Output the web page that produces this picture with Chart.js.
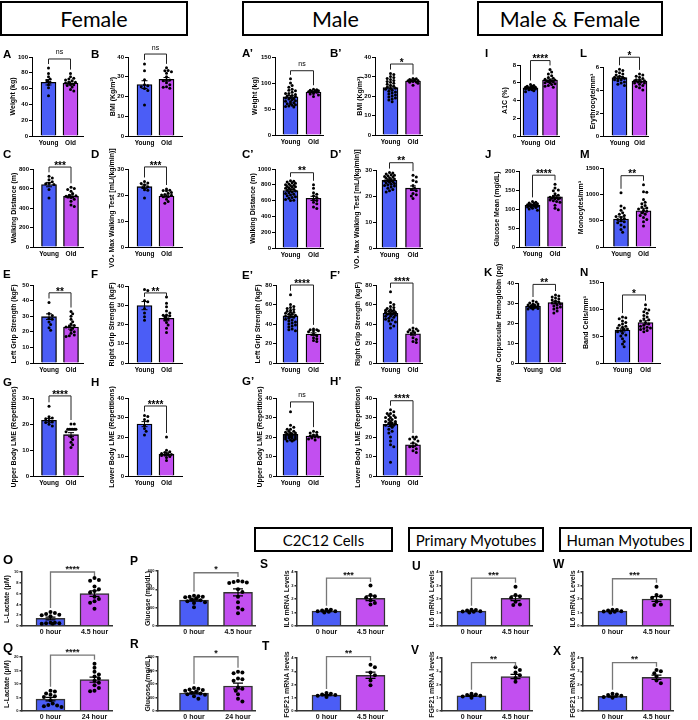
<!DOCTYPE html>
<html><head><meta charset="utf-8">
<script src="https://cdn.jsdelivr.net/npm/chart.js@4.4.1/dist/chart.umd.min.js"></script>
<style>
html,body{margin:0;padding:0;background:#fff;}
#root{position:relative;width:698px;height:720px;overflow:hidden;background:#fff;}
canvas{position:absolute;}
.box{position:absolute;border:2px solid #000;box-sizing:border-box;display:flex;align-items:center;justify-content:center;font-family:Lato,'Open Sans',sans-serif;color:#000;white-space:nowrap;}
.lt{position:absolute;font-family:'Liberation Sans',Arial,sans-serif;font-weight:bold;line-height:1;color:#000;white-space:nowrap;}
</style></head><body><div id="root"></div>
<script>
// ---------- categories ----------
const ageGroups = ['Young', 'Old'];
const hourGroups45 = ['0 hour', '4.5 hour'];
const hourGroups24 = ['0 hour', '24 hour'];

// ---------- Female ----------
const A_young = [86, 79, 75, 72, 70, 68, 65, 61, 51];
const A_old = [79, 75, 73, 72, 71, 70, 68, 68, 67, 65, 65, 64, 62, 59, 57];
const A_mean = [68, 67];
const B_young = [36.5, 33, 28.5, 26, 25.5, 25, 24, 23, 15.7];
const B_old = [34.5, 33.2, 33, 32.5, 31.8, 30, 28.5, 28.3, 28, 27, 26, 25, 24.7, 24.2];
const B_mean = [26, 28.7];
const C_young = [725, 708, 690, 668, 655, 650, 640, 590, 503];
const C_old = [612, 600, 590, 572, 548, 530, 525, 520, 515, 512, 508, 490, 470, 432, 415];
const C_mean = [640, 520];
const D_young = [25.2, 24.6, 24.4, 23.9, 23.2, 22.9, 22, 21.8, 18.8];
const D_old = [22.3, 21.8, 21.7, 21.6, 21, 20.7, 20.2, 20, 19.9, 19.4, 19.3, 18.4, 17.5, 16.8];
const D_mean = [23.2, 19.6];
const E_young = [38.8, 31.7, 30.4, 28.5, 28, 26.3, 24.6, 22.6, 21];
const E_old = [33, 31.5, 30, 28, 26.5, 25, 24, 23.5, 23, 22.5, 21, 20, 19, 18, 17.5, 17];
const E_mean = [29.7, 23];
const F_young = [38.2, 37.6, 32.5, 31.8, 28.3, 26, 24, 22.2];
const F_old = [34.3, 31, 29.2, 27, 26, 25, 24.8, 24.5, 24, 23, 22.3, 21, 19.7, 18, 15.8];
const F_mean = [29.8, 23.2];
const G_young = [26.8, 22.8, 22.3, 22, 21.3, 20.8, 20.6, 19.9, 19.2];
const G_old = [20, 20, 18, 18, 18, 18, 18, 18, 17, 15, 14, 13, 12, 11];
const G_mean = [21.4, 15.9];
const H_young = [31, 30.5, 29, 28.2, 26, 24.3, 23, 21];
const H_old = [20, 13.2, 12.5, 12, 11.5, 11.2, 11, 10.8, 10.5, 10, 9.5, 8];
const H_mean = [26.6, 11.3];

// ---------- Male ----------
const Ap_young = [108, 100, 95, 92, 88, 86, 85, 82, 80, 80, 78, 76, 75, 74, 72, 71, 70, 69, 68, 66, 65, 64, 62, 60, 60, 58, 57, 56, 55, 54];
const Ap_old = [88, 87, 86, 85, 85, 84, 83, 82, 80, 79, 77, 74];
const Ap_mean = [73.5, 82.5];
const Bp_young = [31.5, 31, 30, 29.5, 29, 28.5, 28, 27.5, 27, 26.5, 26, 25.5, 25, 24.5, 24, 24, 23.5, 23, 22.5, 22, 21.5, 21, 20.5, 20, 19.5, 19, 18.5, 18, 17];
const Bp_old = [29, 28.8, 28.5, 28.3, 28, 28, 27.8, 27.5, 27.2, 27, 26.5, 25.5];
const Bp_mean = [24.3, 27.7];
const Cp_young = [850, 845, 835, 825, 820, 810, 800, 795, 790, 780, 775, 770, 760, 755, 745, 740, 730, 720, 710, 700, 690, 680, 670, 660, 650, 640, 630, 615, 605, 600];
const Cp_old = [800, 755, 700, 680, 660, 640, 620, 600, 580, 560, 520, 500];
const Cp_mean = [728, 628];
const Dp_young = [29, 28.8, 28.5, 28.2, 28, 27.8, 27.5, 27.3, 27, 26.8, 26.5, 26.3, 26, 25.8, 25.5, 25.3, 25, 24.8, 24.5, 24.2, 24, 23.8, 23.5, 23, 22.5, 22, 21.5];
const Dp_old = [28, 27.3, 26, 25.5, 24, 23, 22.5, 22, 21, 20.5, 20, 19];
const Dp_mean = [26, 23];
const Ep_young = [70, 60, 58, 57, 56, 55, 54, 53, 52, 52, 51, 50, 50, 49, 48, 48, 47, 46, 45, 44, 43, 42, 41, 40, 39, 38, 37, 35, 34, 33];
const Ep_old = [35, 34, 34, 33, 33, 32, 30, 28, 26, 25, 23, 22];
const Ep_mean = [48.3, 29.6];
const Fp_young = [73, 62, 60, 58, 57, 56, 55, 54, 54, 53, 53, 52, 52, 51, 51, 50, 50, 49, 48, 48, 47, 46, 45, 44, 43, 42, 40, 38, 36];
const Fp_old = [36, 35, 34, 33, 33, 32, 31, 30, 26, 24, 22, 21];
const Fp_mean = [51, 30];
const Gp_young = [33, 26, 25, 24, 24, 23, 23, 22.5, 22, 22, 21.5, 21.5, 21, 21, 21, 20.5, 20.5, 20, 20, 20, 19.5, 19.5, 19, 19, 18.5, 18.5, 18, 18];
const Gp_old = [23, 22.5, 22, 21, 21, 20.5, 20, 20, 19.5, 19, 18.5];
const Gp_mean = [21.4, 20.5];
const Hp_young = [34, 33, 32, 32, 31, 31, 30, 30, 30, 29, 29, 28, 28, 28, 27, 27, 27, 26, 26, 26, 25, 24, 23, 22, 20, 18, 16, 15, 7];
const Hp_old = [20, 20, 19, 19, 18, 17, 16, 15, 15, 14, 13, 12];
const Hp_mean = [26.5, 16];

// ---------- Male & Female ----------
const I_young = [5.8, 5.7, 5.6, 5.6, 5.5, 5.5, 5.5, 5.4, 5.4, 5.4, 5.4, 5.3, 5.3, 5.3, 5.2, 5.2, 5.1, 5.0];
const I_old = [7.5, 7.2, 7.0, 6.8, 6.6, 6.5, 6.4, 6.3, 6.3, 6.2, 6.2, 6.1, 6.1, 6.0, 6.0, 5.9, 5.8, 5.7, 5.6, 5.5];
const I_mean = [5.43, 6.3];
const L_young = [5.8, 5.7, 5.6, 5.5, 5.4, 5.3, 5.2, 5.1, 5.1, 5.0, 5.0, 4.9, 4.9, 4.8, 4.7, 4.6, 4.5, 4.4];
const L_old = [5.4, 5.3, 5.2, 5.1, 5.0, 4.9, 4.9, 4.8, 4.8, 4.7, 4.7, 4.6, 4.6, 4.5, 4.4, 4.3, 4.2, 4.0];
const L_mean = [5.07, 4.78];
const J_young = [120, 118, 116, 115, 114, 112, 111, 110, 110, 109, 108, 107, 106, 105, 104, 102, 100, 97];
const J_old = [165, 155, 150, 148, 140, 136, 133, 131, 130, 129, 128, 127, 126, 124, 122, 120, 118, 110, 102, 98];
const J_mean = [110, 132];
const M_young = [1030, 780, 740, 700, 650, 620, 600, 580, 560, 540, 520, 500, 480, 460, 420, 380, 330, 280];
const M_old = [1180, 1050, 1040, 900, 850, 820, 790, 760, 740, 720, 700, 680, 650, 620, 600, 560, 520, 480, 400];
const M_mean = [531, 689];
const K_young = [31, 30.5, 30, 29.5, 29.5, 29, 29, 28.8, 28.5, 28.3, 28, 28, 27.8, 27.5, 27.3, 27, 27];
const K_old = [34, 33.5, 33, 32.5, 32, 31.5, 31, 30.5, 30, 30, 29.5, 29, 28.5, 28, 27.5, 27, 26, 25];
const K_mean = [28.3, 30.2];
const N_young = [85, 84, 82, 78, 75, 72, 70, 68, 66, 65, 63, 62, 60, 58, 55, 52, 50, 45, 40, 35, 30];
const N_old = [108, 100, 98, 95, 92, 88, 85, 82, 80, 78, 75, 72, 70, 68, 66, 65, 64, 62, 60, 58];
const N_mean = [61, 75];

// ---------- Cells / myotubes ----------
const O_young = [2.6, 2.4, 2.2, 2.1, 2.0, 1.8, 0.6, 0.6, 0.5, 0.5, 0.4, 0.4];
const O_old = [8.9, 8.5, 8.4, 7.3, 6.8, 6.5, 6.2, 5.4, 5.0, 4.6, 4.3, 3.2];
const O_mean = [1.4, 6.0];
const P_young = [330, 325, 320, 320, 315, 300, 290, 280, 270, 260, 250, 205];
const P_old = [490, 485, 480, 475, 470, 400, 370, 320, 260, 200, 180, 140];
const P_mean = [282, 366];
const Q_young = [7.5, 7.2, 6.5, 6.0, 5.5, 5.2, 4.0, 2.8, 2.2, 2.0, 1.8, 1.5];
const Q_old = [17.5, 16, 14.5, 13.5, 12.8, 12, 11.2, 10.5, 9.5, 8.5, 7.5, 7.3];
const Q_mean = [4.4, 11.6];
const R_young = [340, 330, 320, 310, 300, 290, 270, 260, 250, 240, 220, 180];
const R_old = [580, 570, 560, 480, 470, 450, 350, 330, 300, 250, 180, 140];
const R_mean = [267, 370];
const S_young = [1.2, 1.2, 1.15, 1.1, 1.1, 1.05, 1.0];
const S_old = [3.0, 2.3, 2.2, 2.1, 1.9, 1.7, 1.6];
const S_mean = [1.1, 2.05];
const T_young = [1.35, 1.3, 1.25, 1.2, 1.15, 1.05];
const T_old = [3.5, 3.3, 2.9, 2.7, 2.3, 1.95];
const T_mean = [1.2, 2.7];
const U_young = [1.2, 1.18, 1.15, 1.1, 1.08, 1.05, 1.0];
const U_old = [2.9, 2.3, 2.2, 2.1, 1.8, 1.6, 1.55];
const U_mean = [1.1, 2.05];
const V_young = [1.3, 1.25, 1.2, 1.15, 1.1, 1.0];
const V_old = [3.3, 3.1, 2.9, 2.7, 2.5, 2.2];
const V_mean = [1.15, 2.6];
const W_young = [1.2, 1.18, 1.15, 1.1, 1.08, 1.05, 1.0];
const W_old = [2.9, 2.3, 2.2, 2.1, 1.8, 1.6, 1.55];
const W_mean = [1.1, 2.0];
const X_young = [1.3, 1.25, 1.2, 1.15, 1.05, 1.0];
const X_old = [3.1, 3.0, 2.85, 2.6, 2.3, 2.1];
const X_mean = [1.1, 2.55];

// ---------- panel definitions (layout + references to data) ----------
const panels = [
  {young:A_young, old:A_old, mean:A_mean, max:100, step:20, title:'Weight (kg)', sig:'ns', bk:97.5, cats:ageGroups, ax:32, top:57, bot:136, xr:83, c:[48.5,70.5], tx:13, sz:'s'},
  {young:B_young, old:B_old, mean:B_mean, max:40, step:10, title:'BMI (Kg/m²)', sig:'ns', bk:41.5, cats:ageGroups, ax:128, top:57, bot:136, xr:182, c:[144.5,166.5], tx:113, sz:'s'},
  {young:C_young, old:C_old, mean:C_mean, max:800, step:200, title:'Walking Distance (m)', sig:'***', bk:820, cats:ageGroups, ax:33, top:169, bot:247, xr:83, c:[49,71], tx:14, sz:'s'},
  {young:D_young, old:D_old, mean:D_mean, max:30, step:10, title:'VO₂ Max Walking Test [mL/(kg/min)]', sig:'***', bk:30.8, cats:ageGroups, ax:128, top:169, bot:247, xr:182, c:[144.5,166.5], tx:112, sz:'s'},
  {young:E_young, old:E_old, mean:E_mean, max:50, step:10, title:'Left Grip Strength (kgF)', sig:'**', bk:45, cats:ageGroups, ax:33, top:285, bot:363, xr:83, c:[49,71], tx:14, sz:'s'},
  {young:F_young, old:F_old, mean:F_mean, max:40, step:10, title:'Right Grip Strength (kgF)', sig:'**', bk:36.4, cats:ageGroups, ax:128, top:286, bot:363, xr:182, c:[144.5,166.5], tx:112, sz:'s'},
  {young:G_young, old:G_old, mean:G_mean, max:30, step:10, title:'Upper Body LME (Repetitions)', sig:'****', bk:30.8, cats:ageGroups, ax:33, top:398, bot:476, xr:83, c:[49,71], tx:14, sz:'s'},
  {young:H_young, old:H_old, mean:H_mean, max:40, step:10, title:'Lower Body LME (Repetitions)', sig:'****', bk:35.9, cats:ageGroups, ax:128, top:398, bot:476, xr:182, c:[144.5,166.5], tx:112, sz:'s'},

  {young:Ap_young, old:Ap_old, mean:Ap_mean, max:150, step:50, title:'Weight (kg)', sig:'ns', bk:123.6, cats:ageGroups, ax:275, top:57, bot:135, xr:323, c:[290.5,313.5], tx:255, sz:'s'},
  {young:Bp_young, old:Bp_old, mean:Bp_mean, max:40, step:10, title:'BMI (Kg/m²)', sig:'*', bk:36.4, cats:ageGroups, ax:375, top:57, bot:135, xr:422, c:[390.5,413], tx:360, sz:'s'},
  {young:Cp_young, old:Cp_old, mean:Cp_mean, max:1000, step:200, title:'Walking Distance (m)', sig:'**', bk:953, cats:ageGroups, ax:275, top:169, bot:248, xr:323, c:[290.5,313.5], tx:253, sz:'s'},
  {young:Dp_young, old:Dp_old, mean:Dp_mean, max:30, step:10, title:'VO₂ Max Walking Test [mL/(kg/min)]', sig:'**', bk:32.8, cats:ageGroups, ax:376, top:170, bot:248, xr:422, c:[389.5,413], tx:357, sz:'s'},
  {young:Ep_young, old:Ep_old, mean:Ep_mean, max:80, step:20, title:'Left Grip Strength (kgF)', sig:'****', bk:80, cats:ageGroups, ax:276, top:285, bot:363, xr:323, c:[290.5,313.5], tx:258, sz:'s'},
  {young:Fp_young, old:Fp_old, mean:Fp_mean, max:80, step:20, title:'Right Grip Strength (kgF)', sig:'****', bk:82, cats:ageGroups, ax:376, top:285, bot:363, xr:422, c:[390.5,413], tx:358, sz:'s'},
  {young:Gp_young, old:Gp_old, mean:Gp_mean, max:40, step:10, title:'Upper Body LME (Repetitions)', sig:'ns', bk:38, cats:ageGroups, ax:276, top:398, bot:476, xr:323, c:[290.5,313.5], tx:260, sz:'s'},
  {young:Hp_young, old:Hp_old, mean:Hp_mean, max:40, step:10, title:'Lower Body LME (Repetitions)', sig:'****', bk:38.6, cats:ageGroups, ax:376, top:398, bot:476, xr:422, c:[390.5,413], tx:358, sz:'s'},

  {young:I_young, old:I_old, mean:I_mean, max:8, step:2, title:'A1C (%)', sig:'****', bk:8.5, cats:ageGroups, ax:520, top:65, bot:136, xr:559, c:[530.5,550], tx:505, sz:'s'},
  {young:L_young, old:L_old, mean:L_mean, max:6, step:2, title:'Erythrocyte/mm³', sig:'*', bk:6.85, cats:ageGroups, ax:603, top:67, bot:136, xr:648, c:[619.5,639.5], tx:593, sz:'s'},
  {young:J_young, old:J_old, mean:J_mean, max:200, step:50, title:'Glucose Mean (mg/dL)', sig:'****', bk:189, cats:ageGroups, ax:519, top:171, bot:247, xr:565, c:[532.5,555], tx:497, sz:'s'},
  {young:M_young, old:M_old, mean:M_mean, max:1500, step:500, title:'Monocytes/mm³', sig:'**', bk:1354, cats:ageGroups, ax:603, top:168, bot:247, xr:655, c:[621,643.5], tx:581, sz:'s'},
  {young:K_young, old:K_old, mean:K_mean, max:40, step:10, title:'Mean Corpuscular Hemoglobin (pg)', sig:'**', bk:39.3, cats:ageGroups, ax:518, top:283, bot:363, xr:565, c:[533,555.5], tx:499, sz:'s'},
  {young:N_young, old:N_old, mean:N_mean, max:150, step:50, title:'Band Cells/mm³', sig:'*', bk:126, cats:ageGroups, ax:603, top:282, bot:363, xr:660, c:[622.5,645.5], tx:586, sz:'s'},

  {young:O_young, old:O_old, mean:O_mean, max:10, step:2, title:'L-Lactate (μM)', sig:'****', bk:10, cats:hourGroups45, ax:22, top:572, bot:626, xr:112, c:[50.5,94.5], tx:7, sz:'b'},
  {young:P_young, old:P_old, mean:P_mean, max:600, step:200, title:'Glucose (mg/dL)', sig:'*', bk:581, cats:hourGroups45, ax:158, top:571, bot:626, xr:255, c:[194,238], tx:148, sz:'b'},
  {young:Q_young, old:Q_old, mean:Q_mean, max:20, step:5, title:'L-Lactate (μM)', sig:'****', bk:20.7, cats:hourGroups24, ax:22, top:657, bot:711, xr:112, c:[50.5,94.5], tx:7, sz:'b'},
  {young:R_young, old:R_old, mean:R_mean, max:800, step:200, title:'Glucose (mg/dL)', sig:'*', bk:804, cats:hourGroups24, ax:158, top:657, bot:711, xr:255, c:[194,238], tx:148, sz:'b'},
  {young:S_young, old:S_old, mean:S_mean, max:4, step:1, title:'IL6 mRNA Levels', sig:'***', bk:3.55, cats:hourGroups45, ax:297, top:572, bot:626, xr:387, c:[326.5,370.5], tx:287, sz:'b'},
  {young:T_young, old:T_old, mean:T_mean, max:4, step:1, title:'FGF21 mRNA levels', sig:'**', bk:4.1, cats:hourGroups45, ax:297, top:658, bot:711, xr:387, c:[326.5,370.5], tx:287, sz:'b'},
  {young:U_young, old:U_old, mean:U_mean, max:4, step:1, title:'IL6 mRNA Levels', sig:'***', bk:3.55, cats:hourGroups45, ax:442, top:572, bot:626, xr:532, c:[471.5,515.5], tx:432, sz:'b'},
  {young:V_young, old:V_old, mean:V_mean, max:4, step:1, title:'FGF21 mRNA levels', sig:'**', bk:3.65, cats:hourGroups45, ax:442, top:658, bot:711, xr:532, c:[471.5,515.5], tx:432, sz:'b'},
  {young:W_young, old:W_old, mean:W_mean, max:4, step:1, title:'IL6 mRNA Levels', sig:'***', bk:3.5, cats:hourGroups45, ax:583, top:572, bot:626, xr:673, c:[612.5,656.5], tx:573, sz:'b'},
  {young:X_young, old:X_old, mean:X_mean, max:4, step:1, title:'FGF21 mRNA levels', sig:'**', bk:3.65, cats:hourGroups45, ax:583, top:658, bot:711, xr:673, c:[612.5,656.5], tx:573, sz:'b'}
];

const headers = [
  {text:'Female', x:0, y:1, w:188, h:35, fs:21.5},
  {text:'Male', x:242, y:1, w:187, h:35, fs:21.5},
  {text:'Male & Female', x:477, y:1, w:186, h:35, fs:21.5},
  {text:'C2C12 Cells', x:254, y:527, w:139, h:25, fs:15},
  {text:'Primary Myotubes', x:408, y:527, w:136, h:25, fs:15},
  {text:'Human Myotubes', x:559, y:527, w:133, h:25, fs:15}
];
const letters = [
  ['A',3,50,11.5],['B',91,50,11.5],['C',3,150,11.5],['D',91,150,11.5],['E',3,270,11.5],['F',91,270,11.5],['G',3,378,11.5],['H',91,378,11.5],
  ['A’',242,49,11.5],['B’',330,49,11.5],['C’',242,150,11.5],['D’',330,150,11.5],['E’',242,271,11.5],['F’',330,271,11.5],['G’',242,377,11.5],['H’',330,377,11.5],
  ['I',485,49,11.5],['L',580,49,11.5],['J',485,150,11.5],['M',580,150,11.5],['K',484,268,11.5],['N',580,268,11.5],
  ['O',3,555,13],['P',130,557,12],['Q',3,643,13],['R',130,640,12],['S',260,560,12],['T',262,642,12],['U',412,562,12],['V',411,646,12],['W',553,560,12],['X',553,647,12]
];

// ---------- styles ----------
const FONT = "'Liberation Sans', Arial, 'DejaVu Sans', sans-serif";
const BLUE = '#4b5df6', PURPLE = '#c24ff0';
const STYLES = {
  s:{bw:15, pr:1.5, tick:6, cat:6.5, ttl:7, axisW:1, axisC:'#000', barBorder:'#000', barBW:1.3, cap:3, ebW:1, bkC:'#222', bkW:1, star:10, ns:7, starLift:4, nsLift:4.5, catPad:3, txtC:'#000', tickLen:3},
  b:{bw:29, pr:2, tick:4, cat:7, ttl:7, axisW:1.5, axisC:'#333', barBorder:'#333', barBW:1.5, cap:5, ebW:1.2, bkC:'#777', bkW:1.3, star:9, ns:7, starLift:5.5, nsLift:4.5, catPad:2, txtC:'#111', tickLen:2.5}
};

Chart.defaults.font.family = FONT;

function sem(a){
  const n = a.length; const m = a.reduce((s,v)=>s+v,0)/n;
  const v = a.reduce((s,x)=>s+(x-m)*(x-m),0)/(n-1);
  return Math.sqrt(v/n);
}

function swarm(vals, pxY, pxX, r, maxOff){
  const order = vals.map((v,i)=>i).sort((a,b)=>vals[b]-vals[a]);
  const placed = []; const out = new Array(vals.length).fill(0);
  const step = r*1.1, minD = r*1.9;
  for (const i of order){
    const yp = vals[i]*pxY;
    let best = 0, bestScore = -1;
    for (let k=0;k<40;k++){
      const c = k===0 ? 0 : (k%2 ? 1 : -1)*Math.ceil(k/2)*step;
      if (Math.abs(c) > maxOff) continue;
      let d = Infinity;
      for (const q of placed) d = Math.min(d, Math.hypot(q.x-c, q.y-yp));
      if (d >= minD){ best = c; bestScore = Infinity; break; }
      if (d > bestScore){ bestScore = d; best = c; }
    }
    placed.push({x:best, y:yp}); out[i] = best/pxX;
  }
  return out;
}

const annotPlugin = {
  id:'annot',
  afterDatasetsDraw(chart, args, opts){
    const p = opts.p, st = opts.st;
    const ctx = chart.ctx, x = chart.scales.x, y = chart.scales.y;
    ctx.save();
    const groups = [p.young, p.old];
    // error bars (mean ± SEM)
    ctx.strokeStyle = '#000'; ctx.lineWidth = st.ebW;
    groups.forEach((vals,i)=>{
      const m = p.mean[i], se = sem(vals);
      const cx = x.getPixelForValue(i);
      const yt = y.getPixelForValue(m+se), yb = y.getPixelForValue(Math.max(0,m-se));
      ctx.beginPath();
      ctx.moveTo(cx, yb); ctx.lineTo(cx, yt);
      ctx.moveTo(cx-st.cap, yt); ctx.lineTo(cx+st.cap, yt);
      ctx.moveTo(cx-st.cap, yb); ctx.lineTo(cx+st.cap, yb);
      ctx.stroke();
    });
    // significance bracket
    const by = y.getPixelForValue(p.bk);
    const legEnd = i => {
      const vals = groups[i];
      const topVal = Math.max(Math.max(...vals), p.mean[i]+sem(vals));
      return Math.max(y.getPixelForValue(topVal)-4, by+4);
    };
    const x0 = x.getPixelForValue(0), x1 = x.getPixelForValue(1);
    ctx.strokeStyle = st.bkC; ctx.lineWidth = st.bkW;
    ctx.beginPath();
    ctx.moveTo(x0, legEnd(0)); ctx.lineTo(x0, by); ctx.lineTo(x1, by); ctx.lineTo(x1, legEnd(1));
    ctx.stroke();
    ctx.fillStyle = st.txtC; ctx.textAlign = 'center'; ctx.textBaseline = 'alphabetic';
    if (p.sig === 'ns'){
      ctx.font = `${st.ns}px ${FONT}`;
      ctx.fillText(p.sig, (x0+x1)/2, by - st.nsLift);
    } else {
      ctx.font = `bold ${st.star}px ${FONT}`;
      ctx.fillText(p.sig, (x0+x1)/2, by - st.starLift + 0.575*st.star);
    }
    ctx.restore();
  }
};

const root = document.getElementById('root');

headers.forEach(hd=>{
  const d = document.createElement('div');
  d.className = 'box'; d.textContent = hd.text;
  Object.assign(d.style, {left:hd.x+'px', top:hd.y+'px', width:hd.w+'px', height:hd.h+'px', fontSize:hd.fs+'px'});
  root.appendChild(d);
});

function makePanel(p){
  const st = STYLES[p.sz];
  const unit = p.c[1]-p.c[0];
  const xmin = (p.ax - p.c[0])/unit, xmax = (p.xr - p.c[0])/unit;
  const h = p.bot - p.top, w = p.xr - p.ax;
  const T = 90, B = 90, R = 30;
  const left = Math.round(p.tx - st.ttl/2);
  const L = p.ax - left;
  const cv = document.createElement('canvas');
  cv.width = L + w + R; cv.height = T + h + B;
  cv.style.left = left+'px'; cv.style.top = (p.top - T)+'px';
  root.appendChild(cv);
  const pxY = h/p.max;
  const maxOff = st.bw/2 - st.pr - 0.5;
  const pts = [];
  [p.young, p.old].forEach((vals,g)=>{
    const offs = swarm(vals, pxY, unit, st.pr, maxOff);
    vals.forEach((v,i)=>pts.push({x:g+offs[i], y:v}));
  });
  new Chart(cv, {
    type:'bar',
    data:{datasets:[
      {type:'bar', data:[{x:0,y:p.mean[0]},{x:1,y:p.mean[1]}], backgroundColor:[BLUE,PURPLE], borderColor:st.barBorder, borderWidth:st.barBW, barThickness:st.bw, order:2},
      {type:'scatter', data:pts, pointRadius:st.pr, pointBackgroundColor:'#000', pointBorderWidth:0, showLine:false, order:1, clip:false}
    ]},
    options:{
      responsive:false, animation:false, events:[],
      layout:{padding:{left:0, top:T, right:R, bottom:0}},
      plugins:{legend:{display:false}, tooltip:{enabled:false}, annot:{p:p, st:st}},
      scales:{
        x:{type:'linear', min:xmin, max:xmax, offset:false,
          afterBuildTicks:s=>{ s.ticks = [{value:0},{value:1}]; },
          afterFit:s=>{ s.height = B; },
          ticks:{callback:v=>p.cats[v], font:{size:st.cat, weight:'bold'}, color:st.txtC, padding:st.catPad, autoSkip:false, maxRotation:0},
          grid:{display:false, drawTicks:false, offset:false},
          border:{display:true, color:st.axisC, width:st.axisW}},
        y:{type:'linear', min:0, max:p.max,
          afterFit:s=>{ s.width = L; },
          ticks:{stepSize:p.step, callback:v=>String(v), font:{size:st.tick, weight:'bold'}, color:st.txtC, padding:1, autoSkip:false},
          grid:{display:true, drawOnChartArea:false, drawTicks:true, tickLength:st.tickLen, color:st.axisC, lineWidth:st.axisW},
          border:{display:true, color:st.axisC, width:st.axisW},
          title:{display:true, text:p.title, font:{size:st.ttl, weight:'bold', lineHeight:1}, padding:0, color:st.txtC}}
      }
    },
    plugins:[annotPlugin]
  });
}

panels.forEach(makePanel);

letters.forEach(([t,x,y,s])=>{
  const d = document.createElement('div');
  d.className = 'lt'; d.textContent = t;
  Object.assign(d.style, {left:x+'px', top:(y - 0.13*s)+'px', fontSize:s+'px'});
  root.appendChild(d);
});
</script></body></html>
